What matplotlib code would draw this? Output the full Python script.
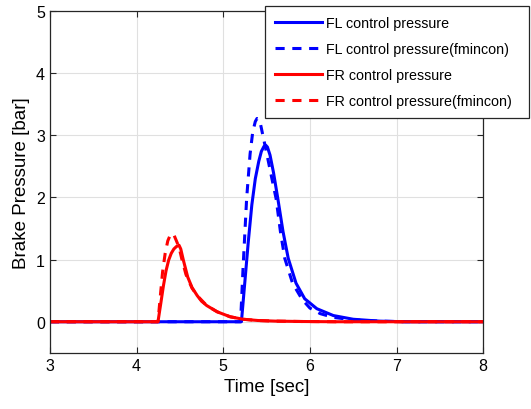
import matplotlib
matplotlib.use("Agg")
import matplotlib.pyplot as plt

plt.rcParams['font.family'] = ['Liberation Sans', 'DejaVu Sans']

# FL control pressure (solid)
fl_t = [3.0, 5.21, 5.25, 5.29, 5.33, 5.37, 5.41, 5.44, 5.47, 5.49, 5.51,
        5.54, 5.58, 5.63, 5.69, 5.75, 5.84, 5.94, 6.08, 6.27, 6.5, 6.8, 7.1, 8.0]
fl_p = [0.0, 0.0, 0.65, 1.3, 1.88, 2.3, 2.58, 2.74, 2.82, 2.84, 2.81,
        2.68, 2.4, 1.98, 1.45, 1.02, 0.62, 0.37, 0.21, 0.1, 0.04, 0.01, 0.0, 0.0]

# FL control pressure (fmincon, dashed)
flf_t = [3.0, 5.20, 5.23, 5.27, 5.31, 5.34, 5.37, 5.39, 5.41, 5.43, 5.46, 5.50,
         5.55, 5.61, 5.66, 5.71, 5.8, 5.91, 6.0, 6.12, 6.27, 6.5, 6.8, 7.1, 8.0]
flf_p = [0.0, 0.0, 0.9, 1.98, 2.7, 3.05, 3.22, 3.27, 3.26, 3.18, 2.98, 2.72,
         2.38, 1.98, 1.45, 1.02, 0.62, 0.36, 0.22, 0.13, 0.07, 0.03, 0.01, 0.0, 0.0]

# FR control pressure (solid)
fr_t = [3.0, 4.247, 4.28, 4.31, 4.34, 4.37, 4.40, 4.43, 4.46, 4.49, 4.51,
        4.54, 4.59, 4.64, 4.70, 4.75, 4.81, 4.93, 5.08, 5.23, 5.4, 5.6, 5.9,
        6.3, 8.0]
fr_p = [0.0, 0.0, 0.3, 0.58, 0.82, 0.99, 1.1, 1.17, 1.21, 1.23, 1.17,
        0.99, 0.72, 0.55, 0.42, 0.33, 0.26, 0.16, 0.08, 0.04, 0.02, 0.01, 0.004,
        0.0, 0.0]

# FR control pressure (fmincon, dashed)
frf_t = [3.0, 4.247, 4.27, 4.30, 4.33, 4.36, 4.39, 4.41, 4.43, 4.46, 4.49,
         4.52, 4.57, 4.64, 4.70, 4.81, 4.93, 5.08, 5.23, 5.4, 5.6, 5.9, 6.3, 8.0]
frf_p = [0.0, 0.0, 0.35, 0.8, 1.1, 1.3, 1.4, 1.42, 1.4, 1.3, 1.2,
         1.02, 0.76, 0.54, 0.42, 0.26, 0.16, 0.08, 0.04, 0.02, 0.01, 0.004, 0.0, 0.0]

labels = ["FL control pressure", "FL control pressure(fmincon)",
          "FR control pressure", "FR control pressure(fmincon)"]

fig = plt.figure(figsize=(5.31, 4.10), dpi=100)
ax = fig.add_axes([0.094, 0.137, 0.816, 0.834])

lw = 2.2
h1, = ax.plot(fl_t, fl_p, color='#0000ff', lw=lw, ls='-')
h2, = ax.plot(flf_t, flf_p, color='#0000ff', lw=lw, ls=(0, (3, 2.5)))
h3, = ax.plot(fr_t, fr_p, color='#ff0000', lw=lw, ls='-')
h4, = ax.plot(frf_t, frf_p, color='#ff0000', lw=lw, ls=(0, (3, 2.5)))

ax.set_xlim(3, 8)
ax.set_ylim(-0.5, 5)
ax.set_xticks([3, 4, 5, 6, 7, 8])
ax.set_yticks([0, 1, 2, 3, 4, 5])
ax.grid(True, color='#e0e0e0', lw=0.8)
ax.set_axisbelow(True)
ax.tick_params(direction='in', top=True, right=True, labelsize=11.5,
               length=4, color='#262626')
for s in ax.spines.values():
    s.set_color('#262626')
    s.set_linewidth(0.9)

ax.set_xlabel("Time [sec]", fontsize=13.5)
ax.set_ylabel("Brake Pressure [bar]", fontsize=13.5)

# legend box sticks out past the axes, to the right edge of the figure
leg = fig.legend([h1, h2, h3, h4], labels, loc='upper left',
                 bbox_to_anchor=(0.499, 0.715, 0.497, 0.268), mode='expand',
                 fontsize=10.3, handlelength=3.3, handletextpad=0.25,
                 labelspacing=0.85, fancybox=False, framealpha=1,
                 edgecolor='#262626', borderpad=0.7, borderaxespad=0.0)
leg.get_frame().set_linewidth(0.9)

fig.savefig("out.png", dpi=100)
